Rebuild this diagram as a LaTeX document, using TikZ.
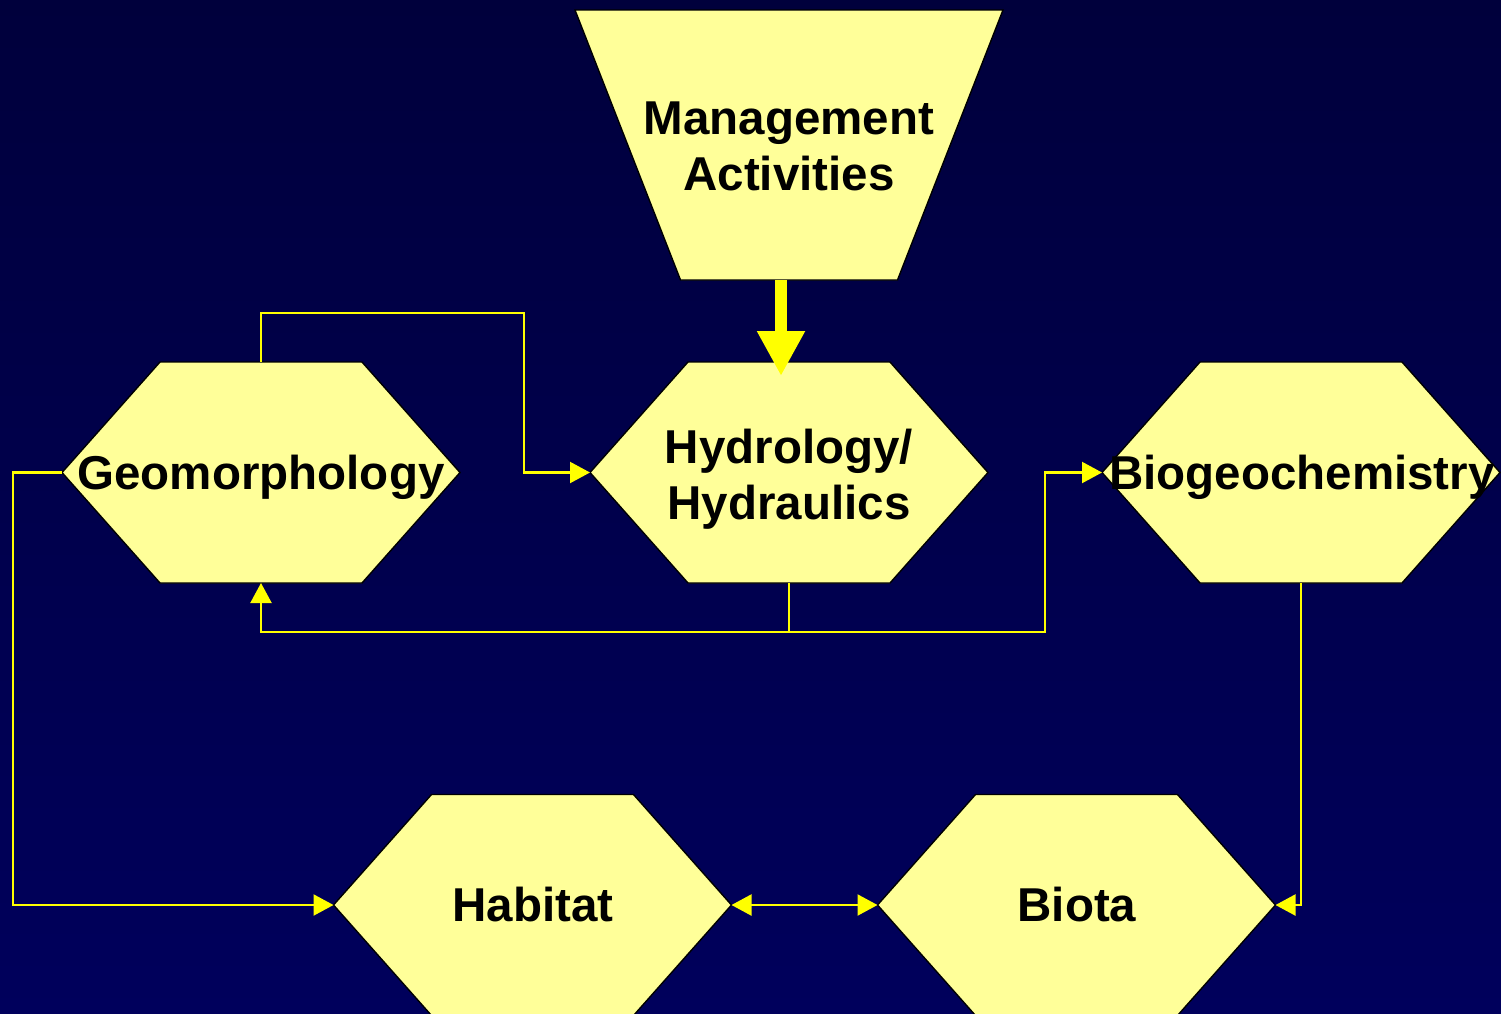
\documentclass[tikz,border=0pt]{standalone}
\usepackage{fontspec}
\setmainfont{Liberation Sans}
\usetikzlibrary{arrows.meta,calc}
\definecolor{panel}{RGB}{255,255,153}
\definecolor{wire}{RGB}{255,255,0}
\definecolor{navytop}{RGB}{0,0,60}
\definecolor{navybot}{RGB}{0,0,92}

% hexagonal outline drawn around a rectangular placeholder node
\newcommand\hexoutline[1]{%
  \path[shapeline] (#1.west) -- ([xshift=98pt]#1.north west) -- ([xshift=-98pt]#1.north east)
    -- (#1.east) -- ([xshift=-98pt]#1.south east) -- ([xshift=98pt]#1.south west) -- cycle;}

\begin{document}
\begin{tikzpicture}[x=1pt,y=-1pt,
  box/.style={shape=rectangle,inner sep=0pt,outer sep=0pt,minimum width=398pt,minimum height=221pt},
  shapeline/.style={fill=panel,draw=black,line width=1.4pt,line join=miter},
  lbl/.style={inner sep=0pt,anchor=base,font=\fontsize{47.5}{55}\selectfont\bfseries,text=black},
  conn/.style={draw=wire,line width=2.2pt,-{Triangle[length=20pt,width=21pt]}},
  bigarrow/.style={draw=wire,line width=12pt,-{Triangle[length=45pt,width=45pt]}}
]
\useasboundingbox (0,0) rectangle (1501,1013);
\clip (0,0) rectangle (1501,1013);
\shade[top color=navytop,bottom color=navybot] (0,0) rectangle (1501,1013);

% placeholders carrying the anchors
\node[shape=rectangle,inner sep=0pt,outer sep=0pt,minimum width=428pt,minimum height=270pt] (mgmt) at (789,145) {};
\node[box] (geo) at (261,472.5) {};
\node[box] (hyd) at (789,472.5) {};
\node[box] (bgc) at (1301,472.5) {};
\node[box] (hab) at (532.5,905) {};
\node[box] (bio) at (1076.5,905) {};

% shapes
\path[shapeline] (mgmt.north west) -- (mgmt.north east) -- ([xshift=-105.5pt]mgmt.south east)
  -- ([xshift=105.5pt]mgmt.south west) -- cycle;
\hexoutline{geo}
\hexoutline{hyd}
\hexoutline{bgc}
\hexoutline{hab}
\hexoutline{bio}

% labels
\node[lbl] (mgmt-a) at (789,134) {Management};
\node[lbl] (mgmt-b) at (789,190) {Activities};
\node[lbl] (geo-a) at (261,489) {Geomorphology};
\node[lbl] (hyd-a) at (789,463) {Hydrology/};
\node[lbl] (hyd-b) at (789,519) {Hydraulics};
\node[lbl] (bgc-a) at (1302,489) {Biogeochemistry};
\node[lbl] (hab-a) at (533,921) {Habitat};
\node[lbl] (bio-a) at (1077,921) {Biota};

% bend points of the connectors
\coordinate (k1) at (524,313);
\coordinate (k2) at (789,632);
\coordinate (k3) at (1045,632);
\coordinate (k4) at (13,472.5);
\coordinate (feed) at (781,280);
\coordinate (feedtip) at (781,376);

% connectors
\draw[conn] (geo.north) |- (k1) |- (hyd.west);
\draw[conn] (hyd.south) -- (k2) -| (geo.south);
\draw[conn] (k2) -- (k3) |- (bgc.west);
\draw[conn] (geo.west) -- (k4) |- (hab.west);
\draw[conn,{Triangle[length=20pt,width=21pt]}-{Triangle[length=20pt,width=21pt]}] (hab.east) -- (bio.west);
\draw[conn] (bgc.south) |- (bio.east);
\draw[bigarrow] (feed) -- (feedtip);
\end{tikzpicture}
\end{document}
